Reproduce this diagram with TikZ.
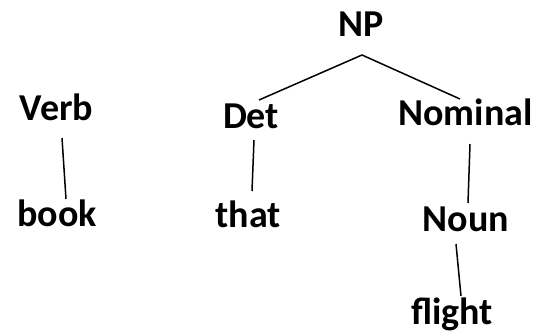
\documentclass[tikz,border=0pt]{standalone}
\usepackage{fontspec}
\setmainfont{Carlito}
\usetikzlibrary{calc}
\colorlet{treecolor}{black}

\begin{document}
\begin{tikzpicture}[x=1pt, y=-1pt,
    word/.style={anchor=base, inner sep=0pt, text=treecolor,
      font=\fontsize{38}{44}\selectfont\bfseries},
    branch/.style={treecolor, line width=1.5pt}]

  \useasboundingbox (0,0) rectangle (541,334);

  % tree nodes
  \node[word] (np)      at (361.5,37)  {NP};
  \node[word] (verb)    at (56.5,121)  {Verb};
  \node[word] (book)    at (57,226)    {book};
  \node[word] (det)     at (251,129)   {Det};
  \node[word] (that)    at (248,227)   {that};
  \node[word] (nominal) at (465.5,126) {Nominal};
  \node[word] (noun)    at (466,231)   {Noun};
  \node[word] (flight)  at (452,324)   {flight};

  % branches
  \draw[branch] ($(det.base)+(8,-29)$) -- ($(np.base)+(0.5,18)$)
    -- ($(nominal.base)+(-5.5,-27)$);
  \draw[branch] ($(verb.base)+(5.5,17)$) -- ($(book.base)+(9,-27)$);
  \draw[branch] ($(det.base)+(3,11)$) -- ($(that.base)+(4,-36)$);
  \draw[branch] ($(nominal.base)+(4.5,18)$) -- ($(noun.base)+(2,-28)$);
  \draw[branch] ($(noun.base)+(-10,13)$) -- ($(flight.base)+(9,-28)$);

\end{tikzpicture}
\end{document}
